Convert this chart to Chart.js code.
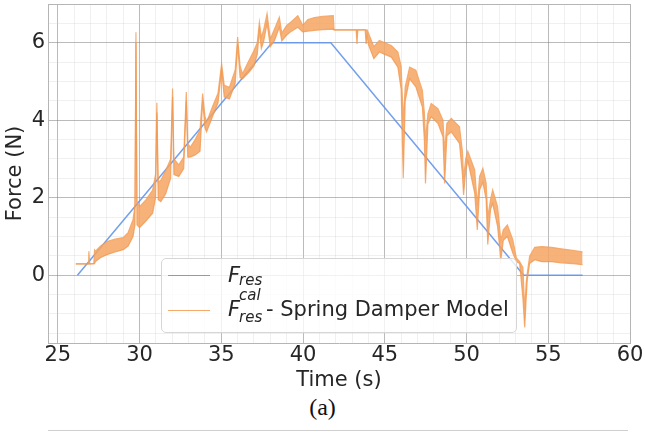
<!DOCTYPE html>
<html>
<head>
<meta charset="utf-8">
<script src="https://cdn.jsdelivr.net/npm/chart.js@4"></script>
<style>
  body { margin: 0; background: #fff; font-family: "DejaVu Sans", sans-serif; color: #262626; }
  #wrap { position: relative; width: 645px; height: 432px; overflow: hidden; }
  #chart { position: absolute; left: 0; top: 0; }
  #legend {
    position: absolute; left: 161px; top: 258px; width: 354px; height: 73px;
    border: 1px solid #d6d6d6; border-radius: 5px; background: rgba(255,255,255,0.8);
  }
  #legend span { position: absolute; white-space: nowrap; }
  .big { font-size: 21px; line-height: 21px; }
  .small { font-size: 15px; line-height: 15px; font-style: italic; }
  .it { font-style: italic; }
  .swatch { position: absolute; left: 6px; width: 42px; height: 0; }
  #caption { position: absolute; left: 0; width: 645px; top: 394px; text-align: center;
    font-family: "Liberation Serif", serif; font-size: 24px; color: #111; }
  #nextfig { position: absolute; left: 48px; top: 430px; width: 580px; height: 1px; background: #cfcfcf; }
</style>
</head>
<body>
<div id="wrap">
  <canvas id="chart" width="645" height="393"></canvas>
  <div id="legend">
    <div class="swatch" style="top:16px;border-top:1.5px solid rgba(100,149,237,0.9)"></div>
    <span class="big it" style="left:66px;top:6px">F</span>
    <span class="small" style="left:77px;top:14px">res</span>
    <div class="swatch" style="top:51px;border-top:1.5px solid rgba(244,160,90,0.9)"></div>
    <span class="big it" style="left:66px;top:40px">F</span>
    <span class="small" style="left:77px;top:29px">cal</span>
    <span class="small" style="left:77px;top:51px">res</span>
    <span class="big" style="left:104px;top:40px">- Spring Damper Model</span>
  </div>
  <div id="caption">(a)</div>
  <div id="nextfig"></div>
</div>
<script>
// Axis tick labels
const xMajor = [25, 30, 35, 40, 45, 50, 55, 60];
const yMajor = [0, 2, 4, 6];

// F_res (reference force)
const resTime  = [26.2, 38.1, 41.7, 53.5, 57.1];
const resForce = [0, 6, 6, 0, 0];

// F_res^cal - spring damper model, upper and lower edges of the oscillation band
const calTime = [
  26.1, 26.85, 26.9, 26.95, 27.2, 27.25, 27.3, 27.6, 28.0, 28.5, 29.0, 29.3, 29.6, 29.72, 29.78, 29.84,
  30.0, 30.4, 30.8, 30.98, 31.06, 31.14, 31.3, 31.6, 31.9, 32.02, 32.1, 32.4, 32.7, 32.86, 32.95,
  33.1, 33.4, 33.7, 33.86, 34.0, 34.1, 34.46, 34.8, 35.02, 35.18, 35.5, 35.85, 36.0, 36.15, 36.3,
  36.7, 37.0, 37.2, 37.33, 37.45, 37.6, 37.8, 38.0, 38.25, 38.55, 38.7, 39.0, 39.3, 39.68, 39.98,
  40.3, 40.7, 41.2, 41.85, 41.9, 43.25, 43.3, 43.35, 43.8, 43.86, 43.92, 44.0, 44.33, 44.67, 45.0,
  45.4, 45.8, 46.0, 46.13, 46.25, 46.52, 46.9, 47.3, 47.42, 47.49, 47.64, 47.84, 48.25, 48.56, 48.66,
  48.8, 49.07, 49.57, 49.75, 49.82, 49.95, 50.08, 50.5, 50.66, 50.8, 51.0, 51.2, 51.3, 51.47, 51.6,
  51.9, 52.1, 52.25, 52.5, 52.83, 53.05, 53.25, 53.45, 53.56, 53.65, 53.72, 53.86, 54.17, 54.6, 55.2,
  55.8, 56.5, 57.1
];
const calUpper = [
  0.29, 0.29, 0.62, 0.29, 0.3, 0.65, 0.62, 0.75, 0.87, 0.93, 0.97, 1.1, 1.43, 1.8, 6.27, 1.9,
  1.77, 1.95, 2.2, 2.6, 4.45, 2.4, 2.45, 2.7, 3.0, 4.82, 3.0, 2.85, 3.05, 4.73, 3.4,
  3.3, 3.5, 3.75, 4.69, 4.1, 3.95, 4.35, 4.7, 5.46, 4.9, 4.85, 5.3, 6.15, 5.4, 5.2,
  5.55, 5.8, 6.0, 6.53, 6.14, 6.35, 6.75, 6.1, 6.35, 6.66, 6.25, 6.45, 6.55, 6.7, 6.45,
  6.6, 6.65, 6.68, 6.7, 6.33, 6.33, 6.33, 6.33, 6.33, 6.33, 6.33, 6.25, 5.9, 6.06, 6.0,
  5.93, 5.76, 5.4, 4.0, 4.86, 5.37, 5.29, 4.77, 4.2, 3.5, 4.17, 4.43, 4.3, 4.0, 3.2,
  3.92, 4.05, 3.83, 3.2, 2.5, 3.0, 3.2, 2.72, 1.8, 2.55, 2.76, 2.38, 1.5, 1.95, 2.2,
  1.77, 0.9, 1.17, 1.3, 0.92, 0.45, 0.35, 0.2, -0.9, -0.2, 0.06, 0.49, 0.72, 0.74, 0.72,
  0.68, 0.64, 0.6
];
const calLower = [
  0.29, 0.29, 0.29, 0.29, 0.3, 0.3, 0.35, 0.45, 0.53, 0.6, 0.66, 0.75, 1.0, 1.3, 6.0, 1.3,
  1.23, 1.4, 1.6, 2.0, 4.2, 1.95, 1.9, 2.1, 2.5, 4.6, 2.6, 2.55, 2.75, 4.5, 3.05,
  3.05, 3.1, 3.2, 4.5, 3.8, 3.7, 4.09, 4.45, 5.3, 4.6, 4.55, 4.95, 5.95, 5.1, 5.07,
  5.24, 5.4, 5.7, 6.3, 5.85, 6.05, 6.5, 5.9, 6.05, 6.4, 6.05, 6.2, 6.3, 6.4, 6.28,
  6.3, 6.32, 6.34, 6.35, 6.33, 6.33, 5.97, 6.33, 6.33, 5.97, 6.2, 5.95, 5.59, 5.76, 5.7,
  5.63, 5.37, 4.8, 2.5, 4.5, 5.07, 4.86, 4.34, 3.5, 2.37, 3.9, 4.09, 3.92, 3.57, 2.37,
  3.6, 3.7, 3.4, 2.6, 2.07, 2.7, 2.95, 2.12, 1.17, 2.2, 2.4, 1.95, 0.79, 1.7, 1.85,
  1.26, 0.4, 0.9, 1.0, 0.57, 0.35, 0.3, -0.6, -1.35, -0.6, -0.1, 0.3, 0.4, 0.35, 0.35,
  0.32, 0.3, 0.27
];

const FONT = "'DejaVu Sans', sans-serif";
const ink = '#262626';

function isMajor(v, list) {
  return list.some(m => Math.abs(m - v) < 1e-6);
}

function pts(xs, ys) {
  return xs.map((x, i) => ({ x: x, y: ys[i] }));
}

function gridColor(list, lo, hi) {
  return function(c) {
    const v = c.tick ? c.tick.value : null;
    if (v === null) return 'rgba(0,0,0,0)';
    if (Math.abs(v - hi) < 1e-6 || Math.abs(v - lo) < 1e-6) return '#b5b5b5';
    return isMajor(v, list) ? 'rgba(120,120,120,0.5)' : 'rgba(200,200,200,0.28)';
  };
}

new Chart(document.getElementById('chart'), {
  type: 'line',
  data: {
    datasets: [
      {
        label: 'F_res',
        data: pts(resTime, resForce),
        borderColor: 'rgba(100,149,237,0.9)',
        borderWidth: 1.5,
        pointRadius: 0,
        fill: false,
        order: 2
      },
      {
        label: 'F_res^cal - Spring Damper Model',
        data: pts(calTime, calUpper),
        borderColor: 'rgba(242,150,75,0.75)',
        borderWidth: 1.2,
        pointRadius: 0,
        fill: false,
        order: 1
      },
      {
        label: 'lower',
        data: pts(calTime, calLower),
        borderColor: 'rgba(242,150,75,0.75)',
        backgroundColor: 'rgba(244,164,98,0.85)',
        borderWidth: 1.2,
        pointRadius: 0,
        fill: 1,
        order: 0
      }
    ]
  },
  options: {
    responsive: false,
    animation: false,
    layout: { padding: { left: 0, right: 15, top: 4, bottom: 0 } },
    plugins: { legend: { display: false }, tooltip: { enabled: false } },
    elements: { line: { tension: 0 } },
    scales: {
      x: {
        type: 'linear',
        min: 24.4,
        max: 60,
        afterFit: s => { s.height = 50; },
        ticks: {
          stepSize: 1,
          autoSkip: false,
          maxRotation: 0,
          includeBounds: false,
          padding: 0,
          color: ink,
          font: { family: FONT, size: 21 },
          callback: v => isMajor(v, xMajor) ? String(v) : ''
        },
        grid: { color: gridColor(xMajor, 24.4, 60), drawTicks: false, lineWidth: 1 },
        border: { color: '#b5b5b5' },
        title: { display: true, text: 'Time (s)', color: ink, font: { family: FONT, size: 21 }, padding: { top: 0, bottom: 0 } }
      },
      y: {
        type: 'linear',
        min: -1.75,
        max: 7,
        afterFit: s => { s.width = 48; s.paddingTop = 0; s.paddingBottom = 0; },
        ticks: {
          stepSize: 0.5,
          autoSkip: false,
          includeBounds: false,
          padding: 3,
          color: ink,
          font: { family: FONT, size: 21 },
          callback: v => isMajor(v, yMajor) ? String(v) : ''
        },
        grid: { color: gridColor(yMajor, -1.75, 7), drawTicks: false, lineWidth: 1 },
        border: { color: '#b5b5b5' },
        title: { display: true, text: 'Force (N)', color: ink, font: { family: FONT, size: 21 }, padding: { top: 3, bottom: 0 } }
      }
    }
  }
});
</script>
</body>
</html>
